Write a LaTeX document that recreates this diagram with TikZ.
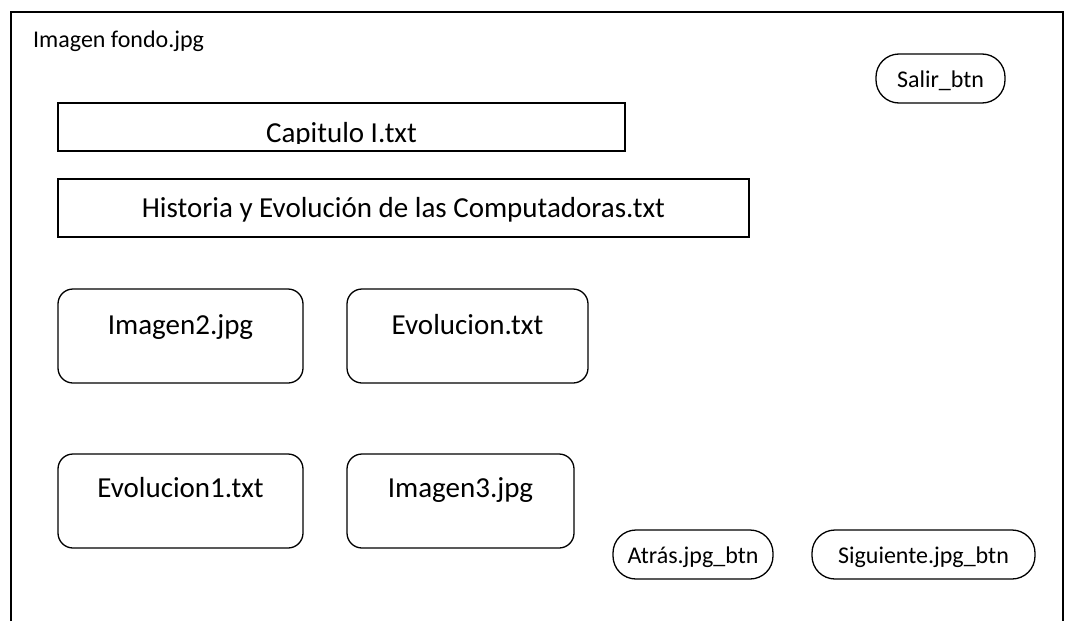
\documentclass[tikz,border=0pt]{standalone}
\usepackage{fontspec}
\setmainfont{Carlito}
\begin{document}
\begin{tikzpicture}[x=1pt,y=-1pt,
  frame/.style={draw,line width=1.3pt},
  boxrect/.style={draw,line width=1.3pt,rectangle,inner sep=0pt},
  boxround/.style={boxrect,rounded corners=15pt},
  btn/.style={boxrect,rounded corners=23pt},
  bigtxt/.style={font=\fontsize{29}{34}\selectfont,anchor=base,inner sep=0pt},
  smalltxt/.style={font=\fontsize{24}{28}\selectfont,inner sep=0pt}]
\useasboundingbox (0,0) rectangle (1065,621);
\coordinate (fbl) at (11,621);
\coordinate (ftl) at (11,12);
\coordinate (ftr) at (1063,12);
\coordinate (fbr) at (1063,621);
\draw[frame] (fbl) -- (ftl) -- (ftr) -- (fbr);
\node[smalltxt,anchor=base west] (fondo) at (33,47) {Imagen fondo.jpg};

\node[btn,minimum width=129pt,minimum height=49pt] (salir) at (940.5,78.5) {};
\node[smalltxt,anchor=base] (salirt) at (940.5,87) {Salir\_btn};

\node[boxrect,minimum width=567pt,minimum height=48pt] (cap) at (341.5,127) {};
\begin{scope}
\clip (58,103) rectangle (625,143.5);
\node[bigtxt] (capt) at (341.5,142) {Capitulo I.txt};
\end{scope}

\node[boxrect,minimum width=691pt,minimum height=58pt] (hist) at (403.5,208) {};
\node[bigtxt] (histt) at (403.5,217) {Historia y Evolución de las Computadoras.txt};

\node[boxround,minimum width=245pt,minimum height=94pt] (img2) at (180.5,336) {};
\node[bigtxt] (img2t) at (180.5,334) {Imagen2.jpg};
\node[boxround,minimum width=241pt,minimum height=94pt] (evo) at (467.5,336) {};
\node[bigtxt] (evot) at (467.5,334) {Evolucion.txt};

\node[boxround,minimum width=245pt,minimum height=94pt] (evo1) at (180.5,501) {};
\node[bigtxt] (evo1t) at (180.5,497) {Evolucion1.txt};
\node[boxround,minimum width=227pt,minimum height=94pt] (img3) at (460.5,501) {};
\node[bigtxt] (img3t) at (460.5,497) {Imagen3.jpg};

\node[btn,minimum width=160pt,minimum height=49pt] (atras) at (693,554.5) {};
\node[smalltxt,anchor=base] (atrast) at (693,563) {Atrás.jpg\_btn};
\node[btn,minimum width=223pt,minimum height=49pt] (sig) at (923.5,554.5) {};
\node[smalltxt,anchor=base] (sigt) at (923.5,563) {Siguiente.jpg\_btn};
\end{tikzpicture}
\end{document}
